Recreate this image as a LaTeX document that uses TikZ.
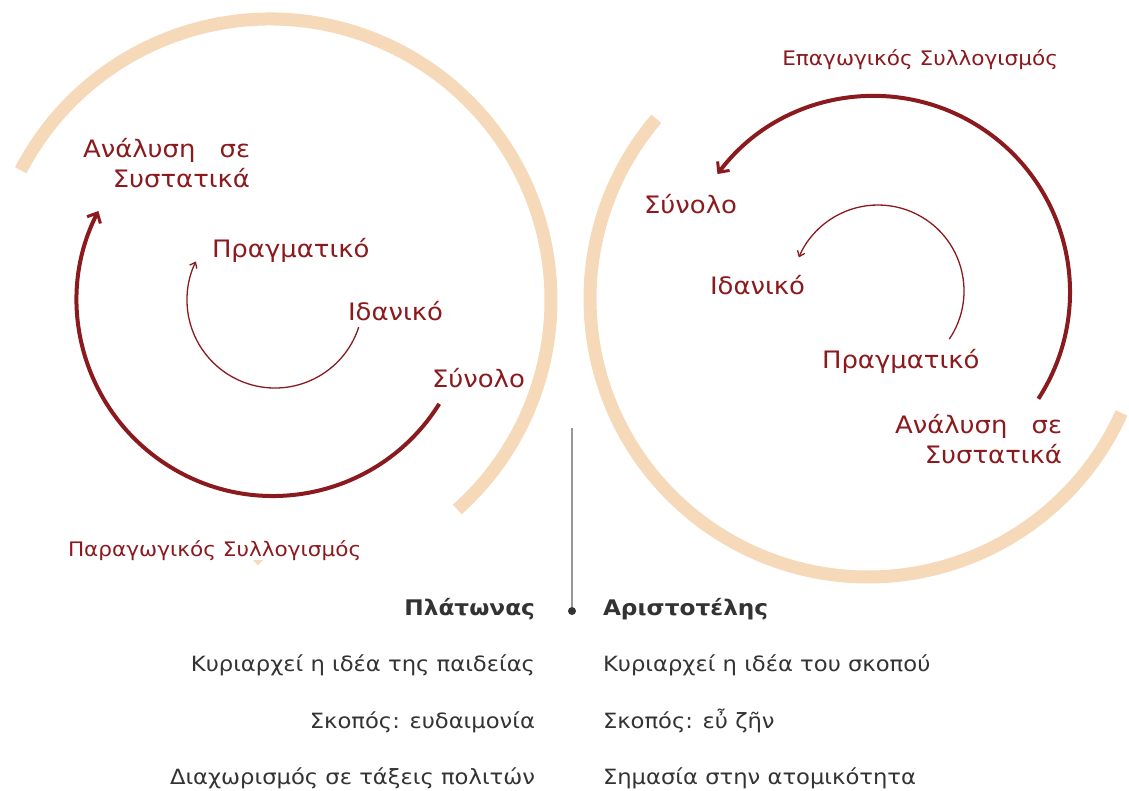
\documentclass[tikz,border=0pt]{standalone}
\usepackage{fontspec}
\setmainfont{DejaVu Sans}[FakeStretch=1.08]
\usetikzlibrary{arrows.meta}

\definecolor{RingBeige}{RGB}{245,217,184}
\definecolor{CycleRed}{RGB}{139,26,30}
\definecolor{TextGrey}{RGB}{51,51,51}

\begin{document}
\begin{tikzpicture}[x=1pt, y=1pt]
\useasboundingbox (0,0) rectangle (1129,-790);

\coordinate (Ring_1) at (270, -300);
\coordinate (Ring_2) at (868, -299);
\coordinate (Big_1) at (273, -300);
\coordinate (Small_1) at (275, -300);
\coordinate (Big_2) at (874, -292);
\coordinate (Small_2) at (878, -291);


\tikzset{RingStyle/.style = {RingBeige, line width=13pt} }

\draw[RingStyle] ([shift={(152.5:281)}]Ring_1) arc[start angle=152.5, end angle=-48.2, radius=281];
\draw[RingStyle] ([shift={(139.6:278)}]Ring_2) arc[start angle=139.6, end angle=335.8, radius=278];


\tikzset{BigArrow/.style = {CycleRed, line width=4pt, -{Straight Barb[length=8pt, width=15pt, line width=3pt]}},
 SmallArrow/.style = {CycleRed, line width=1.3pt, -{Straight Barb[length=5pt, width=8pt]}} }

\draw[BigArrow] ([shift={(-32:196)}]Big_1) arc[start angle=-32, end angle=-207, radius=196];
\draw[SmallArrow] ([shift={(-18:88)}]Small_1) arc[start angle=-18, end angle=-206, radius=88];
\draw[BigArrow] ([shift={(-33:196)}]Big_2) arc[start angle=-33, end angle=143, radius=196];
\draw[SmallArrow] ([shift={(-34:86)}]Small_2) arc[start angle=-34, end angle=157, radius=86];


\tikzset{LabelStyle/.style = {
 text = CycleRed,
 font = \fontsize{24}{30}\selectfont,
 inner sep = 0pt,
 outer sep = 0pt},
 SyllStyle/.style = {LabelStyle, font = \fontsize{20}{24}\selectfont} }

% left cycle
\node[LabelStyle, anchor=base east, align=right] (Anal_1) at (250, -187) {Ανάλυση\hspace{24pt}σε\\Συστατικά};
\node[LabelStyle, anchor=base west] (Real_1) at (212, -257) {Πραγματικό};
\node[LabelStyle, anchor=base west] (Ideal_1) at (348, -320) {Ιδανικό};
\node[LabelStyle, anchor=base west] (Whole_1) at (432, -387) {Σύνολο};
\node[SyllStyle, anchor=base west] (Deduct) at (68, -556) {Παραγωγικός Συλλογισμός};
\fill[RingBeige] (253, -560) -- (263, -560) -- (258, -565) -- cycle;

% right cycle
\node[SyllStyle, anchor=base east] (Induct) at (1058, -65) {Επαγωγικός Συλλογισμός};
\node[LabelStyle, anchor=base east] (Whole_2) at (737, -213) {Σύνολο};
\node[LabelStyle, anchor=base west] (Ideal_2) at (710, -294) {Ιδανικό};
\node[LabelStyle, anchor=base west] (Real_2) at (822, -368) {Πραγματικό};
\node[LabelStyle, anchor=base east, align=right] (Anal_2) at (1062, -463) {Ανάλυση\hspace{24pt}σε\\Συστατικά};


\tikzset{ColStyle/.style = {
 text = TextGrey,
 font = \fontsize{21}{25}\selectfont,
 inner sep = 0pt,
 outer sep = 0pt},
 HeadStyle/.style = {ColStyle, font = \fontsize{21.5}{25}\selectfont\bfseries} }

\coordinate (Top) at (572, -428);
\node[circle, fill=TextGrey, inner sep=0pt, minimum size=8pt] (Dot) at (572, -611) {};
\draw[gray!80, line width=1.3pt] (Top) -- (Dot);

\node[HeadStyle, anchor=base east] (Plato) at (535, -615) {Πλάτωνας};
\node[HeadStyle, anchor=base west] (Arist) at (603, -615) {Αριστοτέλης};

\node[ColStyle, anchor=base east] (P_1) at (535, -671) {Κυριαρχεί η ιδέα της παιδείας};
\node[ColStyle, anchor=base east] (P_2) at (535, -728) {Σκοπός: ευδαιμονία};
\node[ColStyle, anchor=base east] (P_3) at (535, -784) {Διαχωρισμός σε τάξεις πολιτών};
\node[ColStyle, anchor=base west] (A_1) at (603, -671) {Κυριαρχεί η ιδέα του σκοπού};
\node[ColStyle, anchor=base west] (A_2) at (603, -728) {Σκοπός: εὖ ζῆν};
\node[ColStyle, anchor=base west] (A_3) at (603, -784) {Σημασία στην ατομικότητα};

\end{tikzpicture}
\end{document}
